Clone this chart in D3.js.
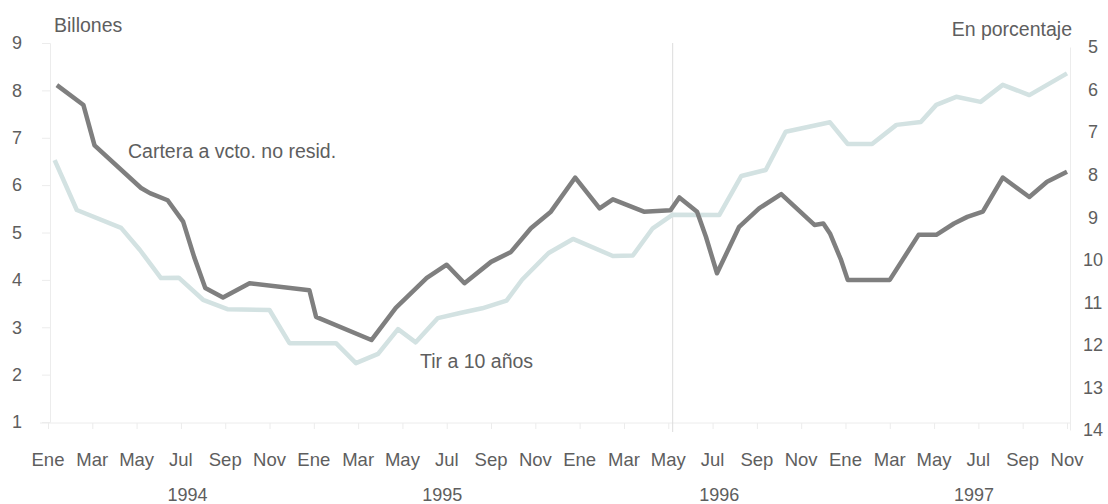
<!DOCTYPE html>
<html>
<head>
<meta charset="utf-8">
<script src="https://cdn.jsdelivr.net/npm/d3@7"></script>
<style>
  html, body { margin: 0; padding: 0; background: #ffffff; }
  svg { display: block; font-family: "Liberation Sans", Arial, Helvetica, sans-serif; }
</style>
</head>
<body>
<svg id="chart" width="1108" height="504"></svg>
<script>
// ---- data ----
// month position: 0 = Ene 1994 ... 46 = Nov 1997
const monthLabels = ["Ene","Mar","May","Jul","Sep","Nov","Ene","Mar","May","Jul","Sep","Nov",
                     "Ene","Mar","May","Jul","Sep","Nov","Ene","Mar","May","Jul","Sep","Nov"];
const monthTicks = d3.range(0, 47, 2);
const years = ["1994","1995","1996","1997"];
const yearPos = [6.3, 17.8, 30.3, 41.8];
const leftTicks = [1,2,3,4,5,6,7,8,9];
const rightTicks = [5,6,7,8,9,10,11,12,13,14];

// Cartera a vcto. no resid. (billones, left axis)
const carteraMonth = [0.4,1.6,2.1,4.2,4.6,5.4,6.1,6.6,7.1,7.9,9.1,11.8,12.1,14.6,15.7,17.1,18.0,18.8,
  20.0,20.9,21.8,22.7,23.8,24.9,25.5,26.9,28.1,28.5,29.3,29.7,30.2,31.2,32.1,33.1,34.6,35.0,35.3,
  35.8,36.1,38.0,39.3,40.1,40.9,41.5,42.2,43.1,44.3,45.1,46.0];
const carteraValue = [8.11,7.69,6.84,5.94,5.83,5.68,5.23,4.48,3.83,3.63,3.93,3.78,3.22,2.73,3.41,4.04,4.32,3.93,
  4.38,4.59,5.09,5.44,6.16,5.51,5.70,5.44,5.47,5.74,5.44,4.91,4.14,5.12,5.51,5.81,5.16,5.19,4.98,
  4.42,4.00,4.00,4.95,4.95,5.19,5.33,5.44,6.16,5.75,6.07,6.28];

// Tir a 10 años (porcentaje, right axis, inverted)
const tirMonth = [0.3,1.3,3.3,4.15,5.1,5.9,7.0,8.1,10.0,10.9,13.0,13.9,14.9,15.8,16.6,17.6,18.6,19.6,
  20.7,21.4,22.6,23.7,25.5,26.4,27.3,28.2,30.3,31.3,32.4,33.3,35.3,36.1,37.2,38.3,39.4,40.1,41.0,
  42.1,43.1,44.3,46.0];
const tirValue = [7.66,8.83,9.25,9.77,10.43,10.42,10.94,11.16,11.18,11.96,11.96,12.43,12.21,11.63,11.94,11.37,11.25,11.14,
  10.96,10.47,9.84,9.51,9.91,9.90,9.26,8.94,8.95,8.03,7.89,6.99,6.77,7.28,7.28,6.83,6.76,6.36,6.17,
  6.29,5.89,6.13,5.62];

const separatorMonth = 28.2; // May 1996

// ---- scales ----
const svg = d3.select("#chart");
const x = d3.scaleLinear().domain([0, 46]).range([48, 1067]);
const yL = d3.scaleLinear().domain([1, 9]).range([422, 43]);
const yR = d3.scaleLinear().domain([5, 14]).range([47, 430]);

const textColor = "#5e5e5e";

// faint frame lines
const axisColor = "#ececec";

// left axis (faint line + ticks)
const gl = svg.append("g").attr("transform", "translate(50,0)")
  .call(d3.axisLeft(yL).tickValues(leftTicks).tickSize(8).tickFormat(""));
gl.selectAll("path,line").attr("stroke", axisColor);

// right axis
const gr = svg.append("g").attr("transform", "translate(1070,0)")
  .call(d3.axisRight(yR).tickValues(rightTicks).tickSize(0).tickFormat(""));
gr.selectAll("path,line").attr("stroke", axisColor);

// bottom axis line
const gb = svg.append("g").attr("transform", "translate(0,423)")
  .call(d3.axisBottom(x).tickValues(monthTicks).tickSize(6).tickFormat(""));
gb.selectAll("path,line").attr("stroke", axisColor);
gb.select("path").attr("d", `M40,0H1070`);

// separator line (May 1996)
svg.append("line")
  .attr("x1", x(separatorMonth)).attr("x2", x(separatorMonth))
  .attr("y1", 43).attr("y2", 432)
  .attr("stroke", "#dcdcdc").attr("stroke-width", 1);

// tick labels
svg.append("g").selectAll("text").data(leftTicks).join("text")
  .attr("x", 12).attr("y", d => yL(d)).attr("dy", "0.35em")
  .attr("fill", textColor).attr("font-size", 18).text(d => d);

svg.append("g").selectAll("text").data(rightTicks).join("text")
  .attr("x", 1093).attr("y", d => yR(d)).attr("dy", "0.35em")
  .attr("text-anchor", "middle")
  .attr("fill", textColor).attr("font-size", 18).text(d => d);

svg.append("g").selectAll("text").data(monthTicks).join("text")
  .attr("x", d => x(d)).attr("y", 466).attr("text-anchor", "middle")
  .attr("fill", textColor).attr("font-size", 18.5).text((d, i) => monthLabels[i]);

svg.append("g").selectAll("text").data(years).join("text")
  .attr("x", (d, i) => x(yearPos[i])).attr("y", 501).attr("text-anchor", "middle")
  .attr("fill", textColor).attr("font-size", 18).text(d => d);

// lines
const tirData = tirMonth.map((m, i) => [m, tirValue[i]]);
const carteraData = carteraMonth.map((m, i) => [m, carteraValue[i]]);

svg.append("path").datum(tirData)
  .attr("fill", "none").attr("stroke", "#d3e2e2").attr("stroke-width", 4.5)
  .attr("stroke-linejoin", "round").attr("stroke-linecap", "butt")
  .attr("d", d3.line().x(d => x(d[0])).y(d => yR(d[1])));

svg.append("path").datum(carteraData)
  .attr("fill", "none").attr("stroke", "#7f7f7f").attr("stroke-width", 4.5)
  .attr("stroke-linejoin", "round").attr("stroke-linecap", "butt")
  .attr("d", d3.line().x(d => x(d[0])).y(d => yL(d[1])));

// titles & annotations
svg.append("text").attr("x", 54).attr("y", 32).attr("fill", textColor)
  .attr("font-size", 19.5).text("Billones");
svg.append("text").attr("x", 1072).attr("y", 36).attr("text-anchor", "end").attr("fill", textColor)
  .attr("font-size", 19.5).text("En porcentaje");
svg.append("text").attr("x", 128).attr("y", 158).attr("fill", textColor)
  .attr("font-size", 19.5).text("Cartera a vcto. no resid.");
svg.append("text").attr("x", 420).attr("y", 368).attr("fill", textColor)
  .attr("font-size", 19.5).text("Tir a 10 años");
</script>
</body>
</html>
